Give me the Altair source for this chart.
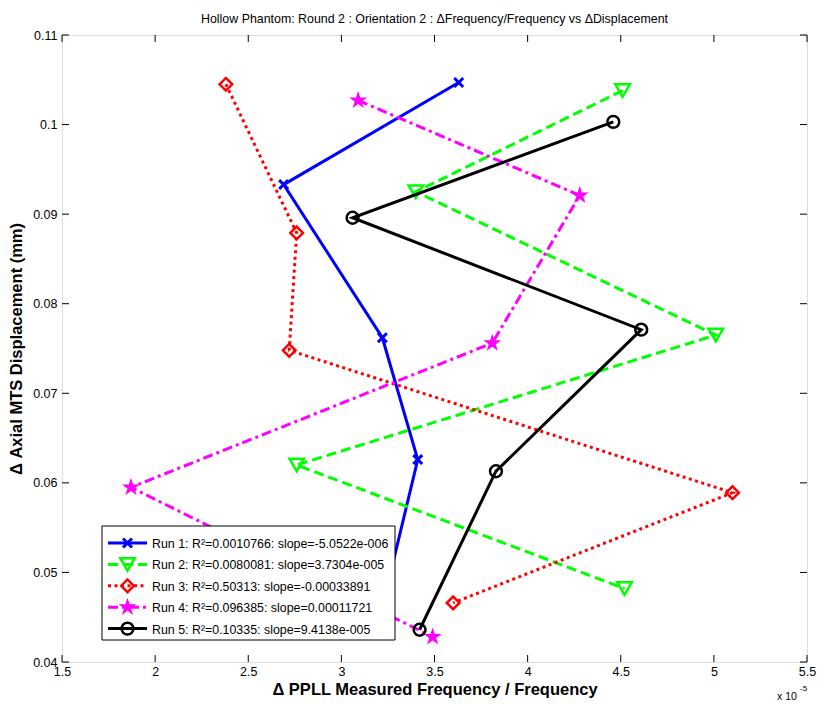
import altair as alt
import pandas as pd

# Plot-area size in pixels
W, H = 745, 627
FONT = "Liberation Sans"

# ---- data -------------------------------------------------------------
runs = ["Run 1", "Run 2", "Run 3", "Run 4", "Run 5"]
r_squared = ["0.0010766", "0.0080081", "0.50313", "0.096385", "0.10335"]
slopes = ["-5.0522e-006", "3.7304e-005", "-0.00033891", "0.00011721", "9.4138e-005"]

# ΔFrequency/Frequency (x 10^-5) and ΔDisplacement (mm), in acquisition order
freq_run1 = [3.63, 2.69, 3.22, 3.41, 3.23]
disp_run1 = [0.1047, 0.0933, 0.0762, 0.0626, 0.0470]
freq_run2 = [4.51, 3.40, 5.01, 2.76, 4.52]
disp_run2 = [0.1038, 0.0925, 0.0765, 0.0620, 0.0482]
freq_run3 = [2.38, 2.76, 2.72, 5.10, 3.60]
disp_run3 = [0.1045, 0.0879, 0.0748, 0.0589, 0.0466]
freq_run4 = [3.09, 4.28, 3.81, 1.87, 3.49]
disp_run4 = [0.1027, 0.0921, 0.0756, 0.0595, 0.0428]
freq_run5 = [4.46, 3.06, 4.61, 3.83, 3.42]
disp_run5 = [0.1003, 0.0896, 0.0771, 0.0613, 0.0436]

freqs = [freq_run1, freq_run2, freq_run3, freq_run4, freq_run5]
disps = [disp_run1, disp_run2, disp_run3, disp_run4, disp_run5]

x_ticks = [1.5, 2, 2.5, 3, 3.5, 4, 4.5, 5, 5.5]
y_ticks = [0.04, 0.05, 0.06, 0.07, 0.08, 0.09, 0.1, 0.11]

# ---- styles -----------------------------------------------------------
X_PATH = "M-1,-1L1,1M-1,1L1,-1"
STAR_PATH = ("M0,-1L0.225,-0.309L0.951,-0.309L0.363,0.118L0.588,0.809L0,0.382"
             "L-0.588,0.809L-0.363,0.118L-0.951,-0.309L-0.225,-0.309Z")

styles = [
    dict(color="#0000ff", dash=None, shape=X_PATH, filled=False, size=80, sw=3),
    dict(color="#00ff00", dash=[10, 5], shape="triangle-down", filled=False, size=210, sw=2.5),
    dict(color="#ff0000", dash=[3, 3.5], shape="diamond", filled=False, size=160, sw=2.5),
    dict(color="#ff00ff", dash=[10, 4, 3, 4], shape=STAR_PATH, filled=True, size=360, sw=1),
    dict(color="#000000", dash=None, shape="circle", filled=False, size=140, sw=2.5),
]

xs = alt.Scale(domain=[1.5, 5.5], nice=False, zero=False)
ys = alt.Scale(domain=[0.04, 0.11], nice=False, zero=False)

x_axis = alt.Axis(values=x_ticks, format=".1~f", ticks=False, domain=False, grid=False,
                  labelPadding=3, labelFontSize=12.5, labelFont=FONT, labelColor="#000",
                  title="\u0394 PPLL Measured Frequency / Frequency", titleFont=FONT,
                  titleFontSize=16.5, titleFontWeight="bold", titleColor="#000",
                  titlePadding=4, labelFlush=False)
y_axis = alt.Axis(values=y_ticks, format=".2~f", ticks=False, domain=False, grid=False,
                  labelPadding=5, labelFontSize=12.5, labelFont=FONT, labelColor="#000",
                  title="\u0394 Axial MTS Displacement (mm)", titleFont=FONT,
                  titleFontSize=16.5, titleFontWeight="bold", titleColor="#000",
                  titlePadding=8, labelFlush=False)

X = alt.X("f:Q", scale=xs, axis=x_axis)
Y = alt.Y("d:Q", scale=ys, axis=y_axis)

layers = []

# inward tick marks on all four sides
TL = 7
xt = alt.Chart(pd.DataFrame({"f": x_ticks}))
yt = alt.Chart(pd.DataFrame({"d": y_ticks}))
layers.append(xt.mark_rule(color="#000", strokeWidth=1).encode(x=X, y=alt.value(H), y2=alt.value(H - TL)))
layers.append(xt.mark_rule(color="#000", strokeWidth=1).encode(x=X, y=alt.value(0), y2=alt.value(TL)))
layers.append(yt.mark_rule(color="#000", strokeWidth=1).encode(y=Y, x=alt.value(0), x2=alt.value(TL)))
layers.append(yt.mark_rule(color="#000", strokeWidth=1).encode(y=Y, x=alt.value(W), x2=alt.value(W - TL)))

# one line + marker layer per run
for k, run in enumerate(runs):
    st = styles[k]
    df = pd.DataFrame({"f": freqs[k], "d": disps[k], "i": list(range(len(freqs[k]))), "run": run})
    base = alt.Chart(df)
    line_kw = dict(color=st["color"], strokeWidth=3)
    if st["dash"]:
        line_kw["strokeDash"] = st["dash"]
    layers.append(base.mark_line(**line_kw).encode(x=X, y=Y, order="i:Q"))
    pt_kw = dict(shape=st["shape"], size=st["size"], strokeWidth=st["sw"], opacity=1,
                 color=st["color"], filled=st["filled"])
    layers.append(base.mark_point(**pt_kw).encode(x=X, y=Y))

# legend box in the lower-left corner
LX0, LX1, LY0, LY1 = 40, 333, 491, 605
box = alt.Chart(pd.DataFrame({"k": [0]})).mark_rect(fill="white", stroke="#000", strokeWidth=1).encode(
    x=alt.value(LX0), x2=alt.value(LX1), y=alt.value(LY0), y2=alt.value(LY1))
layers.append(box)

for k, run in enumerate(runs):
    st = styles[k]
    yk = 508 + 21.4 * k
    row = alt.Chart(pd.DataFrame({"label": [f"{run}: R\u00b2={r_squared[k]}: slope={slopes[k]}"]}))
    lk = dict(color=st["color"], strokeWidth=3)
    if st["dash"]:
        lk["strokeDash"] = st["dash"]
    layers.append(row.mark_rule(**lk).encode(x=alt.value(46), x2=alt.value(85), y=alt.value(yk)))
    pk = dict(shape=st["shape"], size=st["size"], strokeWidth=st["sw"], opacity=1,
              color=st["color"], filled=st["filled"])
    layers.append(row.mark_point(**pk).encode(x=alt.value(65.5), y=alt.value(yk)))
    layers.append(row.mark_text(align="left", baseline="middle", fontSize=12.4, font=FONT, color="#000").encode(
        x=alt.value(90), y=alt.value(yk + 1), text="label:N"))

# axis multiplier "x 10^-5"
mult = alt.Chart(pd.DataFrame({"t": ["x 10"], "e": ["-5"]}))
layers.append(mult.mark_text(align="left", baseline="middle", fontSize=10.5, font=FONT, color="#000").encode(
    x=alt.value(715), y=alt.value(662), text="t:N"))
layers.append(mult.mark_text(align="left", baseline="middle", fontSize=8, font=FONT, color="#000").encode(
    x=alt.value(738), y=alt.value(654), text="e:N"))

chart = alt.layer(*layers).properties(
    width=W, height=H,
    title=alt.TitleParams(
        "Hollow Phantom: Round 2 : Orientation 2 : \u0394Frequency/Frequency vs \u0394Displacement",
        font=FONT, fontSize=12.4, fontWeight="normal", color="#000", anchor="middle", offset=4),
    autosize=alt.AutoSizeParams(type="none"),
    padding={"left": 62, "top": 35, "right": 10, "bottom": 42},
).configure_view(stroke="#000", strokeWidth=1).configure(background="white")

chart.save("out.html", embed_options={"renderer": "svg", "actions": False})
